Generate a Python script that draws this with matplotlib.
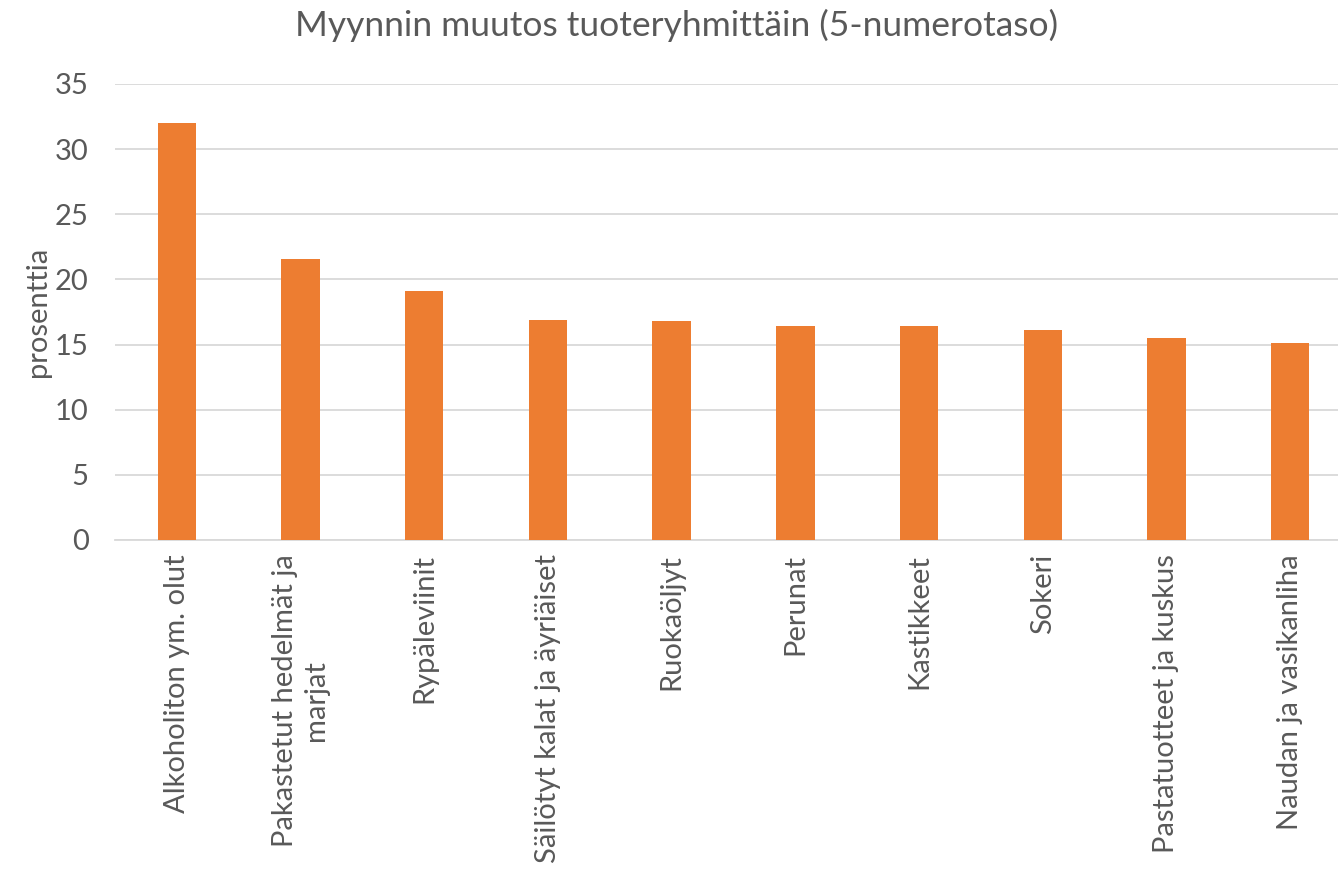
import matplotlib.pyplot as plt

plt.rcParams['font.family'] = ['Lato', 'DejaVu Sans']

tuoteryhmat = ['Alkoholiton ym. olut', 'Pakastetut hedelmät ja\nmarjat', 'Rypäleviinit',
               'Säilötyt kalat ja äyriäiset', 'Ruokaöljyt', 'Perunat', 'Kastikkeet',
               'Sokeri', 'Pastatuotteet ja kuskus', 'Naudan ja vasikanliha']
muutos = [32.0, 21.6, 19.1, 16.85, 16.8, 16.4, 16.4, 16.15, 15.5, 15.15]

teksti = '#595959'

fig = plt.figure(figsize=(13.38, 8.77), dpi=100)
ax = fig.add_axes([115 / 1338, 1 - 540 / 877, 1237 / 1338, 456 / 877])

x = range(len(tuoteryhmat))
ax.bar(x, muutos, width=0.31, color='#ED7D31', zorder=3)

ax.set_xlim(-0.5, len(tuoteryhmat) - 0.5)
ax.set_ylim(0, 35)
ax.set_yticks(range(0, 36, 5))
ax.yaxis.grid(True, color='#D9D9D9', linewidth=1.3, zorder=0)
ax.set_xticks(list(x))
ax.set_xticklabels(tuoteryhmat, rotation=90, ha='center', va='top', multialignment='center')
ax.tick_params(axis='both', length=0, labelsize=21, colors=teksti)
ax.tick_params(axis='x', pad=10)
ax.tick_params(axis='y', pad=19)

for s in ['top', 'right', 'left']:
    ax.spines[s].set_visible(False)
ax.spines['bottom'].set_color('#D9D9D9')
ax.spines['bottom'].set_linewidth(1.3)

ax.set_ylabel('prosenttia', fontsize=21, color=teksti, labelpad=3)
fig.text(677 / 1338, 1 - 25 / 877, 'Myynnin muutos tuoteryhmittäin (5-numerotaso)',
         ha='center', va='center', fontsize=25.5, color=teksti)

fig.savefig('out.png', dpi=100)
